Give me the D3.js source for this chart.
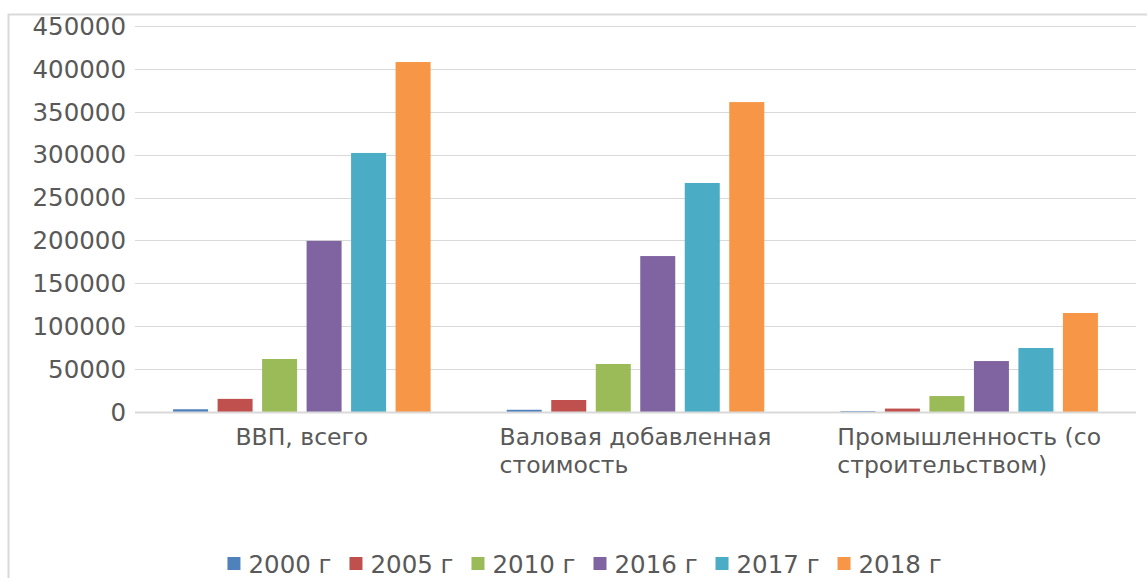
<!DOCTYPE html>
<html>
  <head>
    <meta http-equiv="Content-Type" content="text/html;charset=utf-8" />
    <title>ВВП по годам</title>
    <style>
      body {
        margin: 0;
        font-family: "DejaVu Sans", sans-serif;
        background: #fff;
      }
      .grid line {
        stroke: #d9d9d9;
        stroke-width: 1px;
      }
      .axis text {
        fill: #595959;
        font-size: 24.5px;
      }
      .cat text {
        fill: #595959;
        font-size: 23.5px;
      }
      .legend text {
        fill: #595959;
        font-size: 24.5px;
      }
    </style>
    <script src="https://d3js.org/d3.v7.min.js"></script>
  </head>
  <body>
    <div id="chart"></div>
    <script type="text/javascript">
      const width = 1147,
        height = 578;
      const margin = { top: 26, left: 135, right: 11, bottom: 166 };

      // categories (label lines)
      const categories = [
        ["ВВП, всего"],
        ["Валовая добавленная", "стоимость"],
        ["Промышленность (со", "строительством)"],
      ];
      const years = ["2000 г", "2005 г", "2010 г", "2016 г", "2017 г", "2018 г"];
      const colors = ["#4f81bd", "#c0504d", "#9bbb59", "#8064a2", "#4bacc6", "#f79646"];

      // values per year, one per category
      const v2000 = [3200, 2600, 1000];
      const v2005 = [15300, 14000, 4000];
      const v2010 = [61800, 56000, 18600];
      const v2016 = [199500, 181800, 59400];
      const v2017 = [302000, 267000, 74600];
      const v2018 = [408000, 361300, 115400];
      const series = [v2000, v2005, v2010, v2016, v2017, v2018];

      const yTicks = [0, 50000, 100000, 150000, 200000, 250000, 300000, 350000, 400000, 450000];

      const svg = d3
        .select("#chart")
        .append("svg")
        .attr("width", width)
        .attr("height", height);

      // chart frame (runs off the right and bottom)
      svg
        .append("rect")
        .attr("x", 8.5)
        .attr("y", 14.5)
        .attr("width", 1300)
        .attr("height", 700)
        .style("fill", "none")
        .style("stroke", "#d9d9d9")
        .style("stroke-width", 2);

      const plotW = width - margin.left - margin.right,
        plotH = height - margin.top - margin.bottom;

      const g = svg
        .append("g")
        .attr("transform", "translate(" + margin.left + "," + margin.top + ")");

      const y = d3.scaleLinear().domain([0, 450000]).range([plotH, 0]);
      const x0 = d3
        .scaleBand()
        .domain(d3.range(categories.length))
        .range([0, plotW])
        .paddingInner(0)
        .paddingOuter(0);

      // bars: 6 per group, step with small gap, wide gap between groups
      const barW = 35,
        barStep = 44.5;
      const groupSpan = barStep * (years.length - 1) + barW;

      // gridlines
      g.append("g")
        .attr("class", "grid")
        .selectAll("line")
        .data(yTicks.slice(1))
        .enter()
        .append("line")
        .attr("x1", 0)
        .attr("x2", plotW)
        .attr("y1", function (d) {
          return Math.round(y(d)) + 0.5;
        })
        .attr("y2", function (d) {
          return Math.round(y(d)) + 0.5;
        });

      // y labels
      g.append("g")
        .attr("class", "axis")
        .selectAll("text")
        .data(yTicks)
        .enter()
        .append("text")
        .attr("x", -9)
        .attr("y", function (d) {
          return y(d);
        })
        .attr("dy", "0.36em")
        .style("text-anchor", "end")
        .text(function (d) {
          return d;
        });

      series.forEach(function (vals, si) {
        g.selectAll("rect.s" + si)
          .data(vals)
          .enter()
          .append("rect")
          .attr("class", "s" + si)
          .attr("x", function (d, ci) {
            return x0(ci) + x0.bandwidth() / 2 - groupSpan / 2 + si * barStep;
          })
          .attr("y", function (d) {
            return y(d);
          })
          .attr("width", barW)
          .attr("height", function (d) {
            return plotH - y(d);
          })
          .style("fill", colors[si]);
      });

      // x axis line
      g.append("line")
        .attr("x1", 0)
        .attr("x2", plotW)
        .attr("y1", plotH + 0.5)
        .attr("y2", plotH + 0.5)
        .style("stroke", "#d9d9d9")
        .style("stroke-width", 2);

      // category labels: first line centred, following lines start where it starts
      const cat = g.append("g").attr("class", "cat");
      categories.forEach(function (lines, ci) {
        const cx = x0(ci) + x0.bandwidth() / 2;
        const t = cat
          .append("text")
          .attr("y", plotH + 33)
          .text(lines[0]);
        const w = t.node().getComputedTextLength();
        t.attr("x", cx - w / 2);
        for (let i = 1; i < lines.length; i++) {
          cat
            .append("text")
            .attr("x", cx - w / 2)
            .attr("y", plotH + 33 + i * 28)
            .text(lines[i]);
        }
      });

      // legend
      const legend = svg.append("g").attr("class", "legend");
      let lx = 0;
      years.forEach(function (yr, i) {
        const it = legend.append("g");
        it.append("rect")
          .attr("x", 0)
          .attr("y", -7)
          .attr("width", 13)
          .attr("height", 13)
          .style("fill", colors[i]);
        const tx = it
          .append("text")
          .attr("x", 21)
          .attr("y", 0)
          .attr("dy", "0.36em")
          .text(yr);
        const w = 21 + tx.node().getComputedTextLength();
        it.attr("transform", "translate(" + lx + ",0)");
        lx += w + 18;
      });
      const legendW = lx - 18;
      legend.attr("transform", "translate(" + (width / 2 + 11 - legendW / 2) + ",564)");
    </script>
  </body>
</html>
